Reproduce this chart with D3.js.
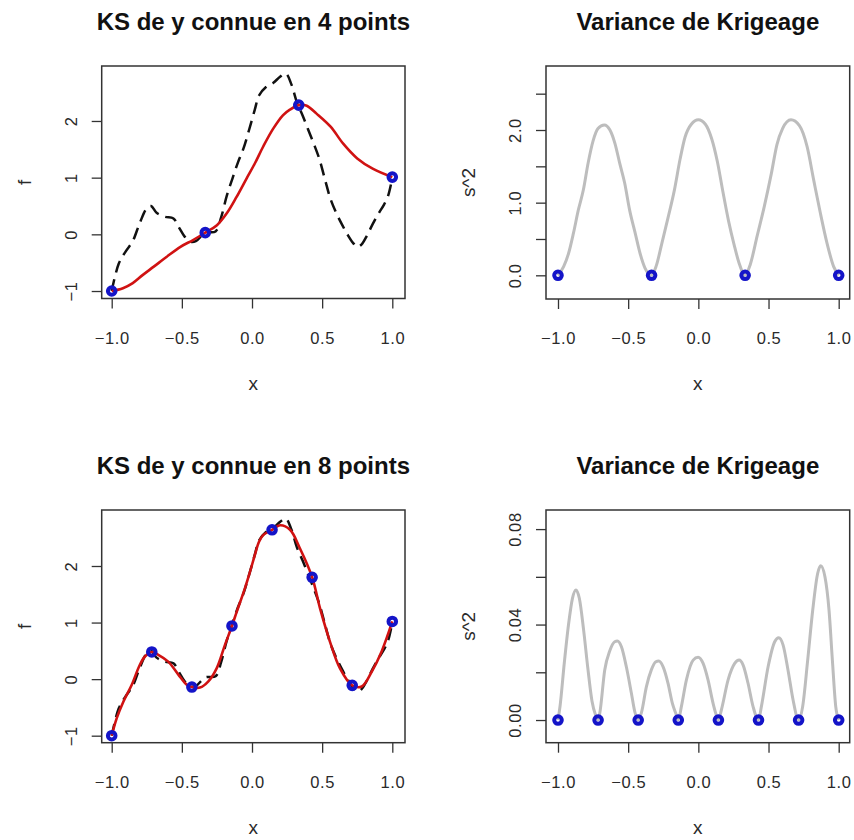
<!DOCTYPE html>
<html>
<head>
<meta charset="utf-8">
<script src="https://cdn.jsdelivr.net/npm/d3@7"></script>
<style>
  html, body { margin: 0; padding: 0; background: #fff; }
  text { font-family: "Liberation Sans", Arial, sans-serif; }
</style>
</head>
<body>
<script>
// Kriging simple : fonction vraie, predicteur, variance (4 puis 8 points)

// fonction vraie y (pointilles noirs)
const trueX = [-1, -0.95, -0.9, -0.85, -0.8, -0.75, -0.72, -0.68, -0.62, -0.56, -0.52, -0.48, -0.44, -0.4, -0.333,
  -0.26, -0.22, -0.18, -0.14, -0.1, -0.06, -0.02, 0.02, 0.05, 0.1, 0.15, 0.2, 0.24, 0.28, 0.32, 0.36, 0.4,
  0.44, 0.48, 0.52, 0.56, 0.6, 0.64, 0.68, 0.72, 0.75, 0.78, 0.82, 0.86, 0.9, 0.94, 0.97, 1];
const trueY = [-1, -0.52, -0.3, -0.12, 0.2, 0.46, 0.5, 0.38, 0.31, 0.28, 0.12, -0.04, -0.13, -0.12, 0.03,
  0.05, 0.3, 0.68, 0.98, 1.27, 1.52, 1.85, 2.2, 2.45, 2.6, 2.67, 2.78, 2.84, 2.65, 2.33, 2.1, 1.85,
  1.6, 1.33, 0.97, 0.62, 0.38, 0.18, 0.0, -0.15, -0.22, -0.18, -0.02, 0.18, 0.36, 0.52, 0.68, 1.0];

// predicteur KS, 4 points
const pred4X = [-1, -0.92, -0.85, -0.78, -0.7, -0.61, -0.51, -0.42, -0.333, -0.25, -0.18, -0.11, -0.04,
  0.02, 0.08, 0.15, 0.22, 0.27, 0.333, 0.39, 0.46, 0.56, 0.65, 0.75, 0.86, 1];
const pred4Y = [-1, -0.95, -0.86, -0.72, -0.57, -0.4, -0.22, -0.1, 0.03, 0.16, 0.37, 0.66, 0.98,
  1.25, 1.55, 1.86, 2.1, 2.2, 2.28, 2.27, 2.13, 1.9, 1.6, 1.34, 1.16, 1.01];

// predicteur KS, 8 points
const pred8X = [-1, -0.964, -0.917, -0.857, -0.8, -0.763, -0.714, -0.668, -0.597, -0.525, -0.465, -0.429,
  -0.371, -0.311, -0.252, -0.192, -0.143, -0.109, -0.05, -0.014, 0.021, 0.05, 0.081, 0.143, 0.2, 0.271,
  0.342, 0.429, 0.485, 0.556, 0.627, 0.714, 0.782, 0.853, 0.924, 1];
const pred8Y = [-1, -0.69, -0.4, -0.1, 0.25, 0.4, 0.48, 0.43, 0.31, 0.08, -0.1, -0.14,
  -0.15, -0.04, 0.19, 0.61, 0.94, 1.19, 1.61, 1.9, 2.2, 2.43, 2.55, 2.64, 2.72, 2.64,
  2.31, 1.8, 1.25, 0.66, 0.19, -0.11, -0.13, 0.13, 0.49, 1.02];

// points d'observation
const design4X = [-1, -0.3333, 0.3333, 1];
const design4Y = [-1, 0.03, 2.28, 1.01];
const design8X = [-1, -0.7143, -0.4286, -0.1429, 0.1429, 0.4286, 0.7143, 1];
const design8Y = [-1, 0.48, -0.14, 0.94, 2.64, 1.8, -0.11, 1.02];

// variance de krigeage, 4 points
const var4X = [-1, -0.96, -0.925, -0.89, -0.855, -0.82, -0.785, -0.75, -0.715, -0.67, -0.63, -0.595, -0.56,
  -0.525, -0.49, -0.45, -0.415, -0.38, -0.3333,
  -0.3, -0.26, -0.215, -0.17, -0.13, -0.095, -0.05, 0, 0.05, 0.095, 0.135, 0.175, 0.215, 0.255, 0.29, 0.3333,
  0.37, 0.42, 0.47, 0.52, 0.56, 0.6, 0.66, 0.72, 0.775, 0.822, 0.87, 0.917, 0.964, 1];
const var4Y = [0, 0.12, 0.3, 0.58, 0.9, 1.17, 1.55, 1.85, 2.02, 2.07, 2.0, 1.82, 1.54,
  1.27, 0.9, 0.58, 0.3, 0.1, 0,
  0.13, 0.44, 0.8, 1.18, 1.6, 1.9, 2.08, 2.14, 2.08, 1.88, 1.57, 1.15, 0.75, 0.42, 0.17, 0,
  0.15, 0.55, 0.95, 1.4, 1.8, 2.02, 2.14, 2.06, 1.77, 1.31, 0.85, 0.44, 0.12, 0];

// variance de krigeage, 8 points
const var8X = [-1, -0.985, -0.955, -0.925, -0.897, -0.872, -0.848, -0.818, -0.788, -0.758, -0.732, -0.7143,
  -0.702, -0.667, -0.631, -0.596, -0.577, -0.548, -0.513, -0.477, -0.453, -0.4286,
  -0.406, -0.37, -0.335, -0.304, -0.282, -0.251, -0.216, -0.185, -0.161, -0.1429,
  -0.121, -0.085, -0.037, -0.002, 0.034, 0.069, 0.105, 0.124, 0.1429,
  0.164, 0.212, 0.259, 0.29, 0.319, 0.354, 0.39, 0.4286,
  0.449, 0.497, 0.544, 0.573, 0.604, 0.639, 0.675, 0.7143,
  0.743, 0.779, 0.815, 0.85, 0.872, 0.902, 0.931, 0.955, 0.979, 1];
const var8Y = [0, 0.006, 0.024, 0.04, 0.051, 0.0545, 0.051, 0.038, 0.022, 0.008, 0.002, 0,
  0.003, 0.021, 0.029, 0.0328, 0.0331, 0.0307, 0.0223, 0.0112, 0.0035, 0,
  0.003, 0.014, 0.021, 0.0244, 0.0247, 0.0223, 0.0154, 0.007, 0.0028, 0,
  0.0056, 0.0168, 0.0251, 0.0263, 0.0237, 0.0168, 0.007, 0.0028, 0,
  0.0042, 0.0168, 0.0237, 0.0251, 0.023, 0.0154, 0.0056, 0,
  0.0056, 0.0223, 0.0328, 0.0345, 0.0314, 0.0209, 0.0084, 0,
  0.0056, 0.0251, 0.0461, 0.0614, 0.0646, 0.06, 0.0461, 0.0251, 0.0056, 0];

const xTicks = [-1, -0.5, 0, 0.5, 1];
const fTicks = [-1, 0, 1, 2];
const var4Ticks = [0, 0.5, 1, 1.5, 2, 2.5];
const var8Ticks = [0, 0.02, 0.04, 0.06, 0.08];

const titles = ["KS de y connue en 4 points", "Variance de Krigeage",
                "KS de y connue en 8 points", "Variance de Krigeage"];

const svg = d3.select("body").append("svg")
  .attr("width", 854)
  .attr("height", 840)
  .style("background", "#fff");

// one R-like panel: box, axes, titles
function panel(o) {
  const g = svg.append("g");
  const x = d3.scaleLinear().domain(o.xDomain).range([o.left, o.right]);
  const y = d3.scaleLinear().domain(o.yDomain).range([o.bottom, o.top]);

  g.append("g")
    .attr("transform", `translate(0,${o.bottom})`)
    .call(d3.axisBottom(x).tickValues(xTicks).tickSize(10).tickFormat(d3.format(".1f")))
    .call(a => a.select(".domain").remove())
    .call(a => a.selectAll("line").attr("stroke", "#333").attr("stroke-width", 1.3))
    .call(a => a.selectAll("text").attr("y", 45).attr("dy", null)
      .attr("font-size", 16.5).attr("fill", "#2a2a2a").attr("letter-spacing", 0.6)
      .attr("font-family", "'Liberation Sans', Arial, sans-serif"));

  g.append("g")
    .attr("transform", `translate(${o.left},0)`)
    .call(d3.axisLeft(y).tickValues(o.yTicks).tickSize(10)
      .tickFormat((d, i) => (i % o.labelEvery === 0 ? d3.format(o.yFmt)(d) : "")))
    .call(a => a.select(".domain").remove())
    .call(a => a.selectAll("line").attr("stroke", "#333").attr("stroke-width", 1.3))
    .call(a => a.selectAll("text")
      .attr("x", null).attr("dy", null)
      .attr("transform", "translate(-25,0) rotate(-90)")
      .attr("text-anchor", "middle")
      .attr("font-size", 16.5).attr("fill", "#2a2a2a").attr("letter-spacing", 0.6)
      .attr("font-family", "'Liberation Sans', Arial, sans-serif"));

  const cx = (o.left + o.right) / 2, cy = (o.top + o.bottom) / 2;
  g.append("text")
    .attr("x", cx).attr("y", o.top - 36)
    .attr("text-anchor", "middle")
    .attr("font-size", 24).attr("font-weight", "bold").attr("fill", "#111")
    .text(o.title);
  g.append("text")
    .attr("x", cx).attr("y", o.bottom + 91)
    .attr("text-anchor", "middle")
    .attr("font-size", 19).attr("fill", "#2a2a2a")
    .text("x");
  g.append("text")
    .attr("transform", `translate(${o.left - 71},${cy}) rotate(-90)`)
    .attr("text-anchor", "middle")
    .attr("font-size", 19).attr("fill", "#2a2a2a")
    .text(o.yTitle);

  return { g, x, y, o };
}

function drawLine(p, xs, ys, curve, style) {
  const path = p.g.append("path")
    .datum(d3.zip(xs, ys))
    .attr("fill", "none")
    .attr("d", d3.line().x(d => p.x(d[0])).y(d => p.y(d[1])).curve(curve));
  Object.entries(style).forEach(([k, v]) => path.attr(k, v));
}

function drawPoints(p, xs, ys) {
  p.g.append("g").selectAll("circle")
    .data(d3.zip(xs, ys))
    .enter()
    .append("circle")
    .attr("cx", d => p.x(d[0]))
    .attr("cy", d => p.y(d[1]))
    .attr("r", 3.8)
    .attr("fill", "none")
    .attr("stroke", "#1414c8")
    .attr("stroke-width", 4);
}

function drawBox(p) {
  p.g.append("rect")
    .attr("x", p.o.left).attr("y", p.o.top)
    .attr("width", p.o.right - p.o.left).attr("height", p.o.bottom - p.o.top)
    .attr("fill", "none").attr("stroke", "#333").attr("stroke-width", 1.5);
}

const dashed = { stroke: "#111", "stroke-width": 2.5, "stroke-dasharray": "12,7" };
const red = { stroke: "#d01212", "stroke-width": 2.6 };
const gray = { stroke: "#bdbdbd", "stroke-width": 3 };

// haut gauche
const p1 = panel({ left: 101.7, right: 405, top: 66, bottom: 298.5,
  xDomain: [-1.0713, 1.0905], yDomain: [-1.132, 2.97],
  yTicks: fTicks, labelEvery: 1, yFmt: "d", title: titles[0], yTitle: "f" });
drawLine(p1, trueX, trueY, d3.curveCatmullRom.alpha(0.5), dashed);
drawLine(p1, pred4X, pred4Y, d3.curveCatmullRom.alpha(0.5), red);
drawPoints(p1, design4X, design4Y);
drawBox(p1);

// haut droite
const p2 = panel({ left: 546, right: 849.7, top: 66, bottom: 299,
  xDomain: [-1.0855, 1.0784], yDomain: [-0.326, 2.881],
  yTicks: var4Ticks, labelEvery: 2, yFmt: ".1f", title: titles[1], yTitle: "s^2" });
drawLine(p2, var4X, var4Y, d3.curveMonotoneX, gray);
drawPoints(p2, design4X, design4X.map(() => 0));
drawBox(p2);

// bas gauche
const p3 = panel({ left: 101.7, right: 405, top: 510, bottom: 742.7,
  xDomain: [-1.0713, 1.0905], yDomain: [-1.124, 2.99],
  yTicks: fTicks, labelEvery: 1, yFmt: "d", title: titles[2], yTitle: "f" });
drawLine(p3, trueX, trueY, d3.curveCatmullRom.alpha(0.5), dashed);
drawLine(p3, pred8X, pred8Y, d3.curveCatmullRom.alpha(0.5), red);
drawPoints(p3, design8X, design8Y);
drawBox(p3);

// bas droite
const p4 = panel({ left: 546, right: 849.7, top: 510, bottom: 742.7,
  xDomain: [-1.0855, 1.0784], yDomain: [-0.0095, 0.088],
  yTicks: var8Ticks, labelEvery: 2, yFmt: ".2f", title: titles[3], yTitle: "s^2" });
drawLine(p4, var8X, var8Y, d3.curveMonotoneX, gray);
drawPoints(p4, design8X, design8X.map(() => 0));
drawBox(p4);
</script>
</body>
</html>
